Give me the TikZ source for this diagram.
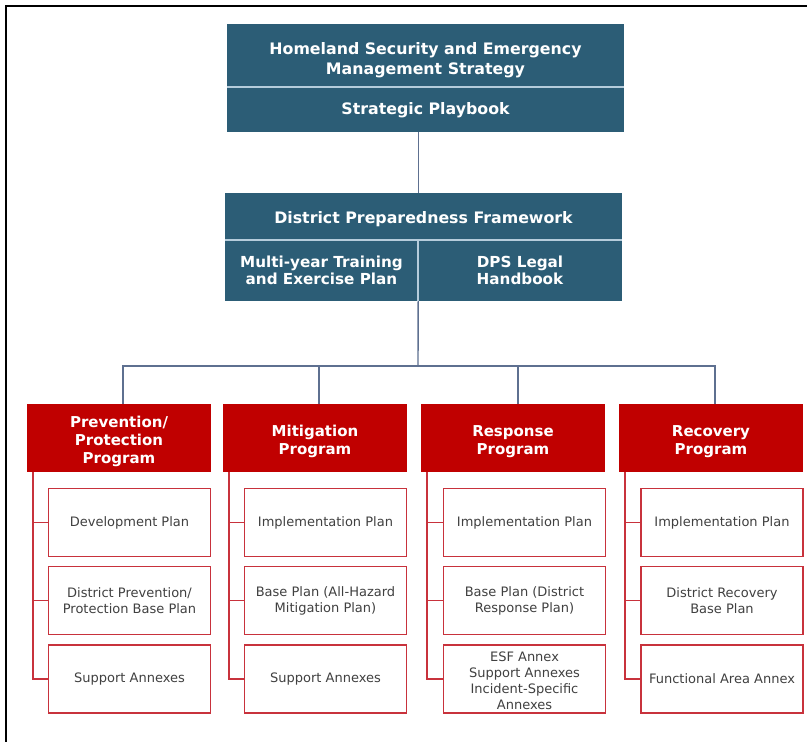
\documentclass[tikz,border=0pt]{standalone}
\usepackage{fontspec}
\setmainfont{DejaVu Sans}
\definecolor{tealbox}{HTML}{2C5D76}
\definecolor{divline}{HTML}{B5CCDB}
\definecolor{redbox}{HTML}{C00000}
\definecolor{redline}{HTML}{C8323C}
\definecolor{conn}{HTML}{5E7090}
\definecolor{childtxt}{HTML}{404040}
\begin{document}
\begin{tikzpicture}[x=1pt,y=-1pt,
  tealnode/.style={fill=tealbox,text=white,font=\fontsize{15.8}{20}\selectfont\bfseries,align=center,inner sep=0pt},
  prog/.style={fill=redbox,text=white,font=\fontsize{15}{18}\selectfont\bfseries,align=center,inner sep=0pt,minimum width=184pt,minimum height=68pt,text height=35.4pt},
  child/.style={draw=redline,line width=1.3pt,fill=white,text=childtxt,font=\fontsize{13}{16}\selectfont,align=center,inner sep=0pt,minimum width=162pt,minimum height=68pt},
  tconn/.style={draw=conn,line width=1.4pt},
  rconn/.style={draw=redline,line width=1.4pt},
  divider/.style={draw=divline,line width=1.5pt}]
\useasboundingbox (0,0) rectangle (807,742);
% frame
\draw[line width=2.5pt,black] (6,742) -- (6,6) -- (807,6);

% top box
\node[tealnode,minimum width=397pt,minimum height=63pt,text height=42pt] (top1) at (425.5,55.5) {Homeland Security and Emergency\\Management Strategy};
\node[tealnode,minimum width=397pt,minimum height=45pt,text height=13.5pt] (top2) at (425.5,109.5) {Strategic Playbook};
\draw[divider] (top1.south west) -- (top1.south east);

% framework
\node[tealnode,minimum width=397pt,minimum height=47pt,text height=18pt] (fw) at (423.5,216.5) {District Preparedness Framework};
\node[tealnode,font=\fontsize{15.2}{17.5}\selectfont\bfseries,minimum width=193pt,minimum height=61pt] (mt) at (321.5,270.5) {Multi-year Training\\and Exercise Plan};
\node[tealnode,font=\fontsize{15.2}{17.5}\selectfont\bfseries,minimum width=204pt,minimum height=61pt] (dps) at (520,270.5) {DPS Legal\\Handbook};
\draw[divider] (fw.south west) -- (fw.south east);
\draw[divider] (mt.north east) -- (mt.south east);

% programs
\node[prog,text height=53.4pt] (p1) at (119,438) {Prevention/\\Protection\\Program};
\node[prog] (p2) at (315,438) {Mitigation\\Program};
\node[prog] (p3) at (513,438) {Response\\Program};
\node[prog] (p4) at (711,438) {Recovery\\Program};

% connectors top
\draw[tconn] (top2.south -| mt.east) -- (fw.north -| mt.east);
\coordinate (bus) at (418,366);
\draw[tconn] (mt.south east) -- (bus);
\draw[tconn] ([xshift=4pt]p1.north) |- (bus) -| ([xshift=4pt]p4.north);
\draw[tconn] ([xshift=4pt]p2.north) -- ([xshift=4pt]p2.north |- bus);
\draw[tconn] ([xshift=5pt]p3.north) -- ([xshift=5pt]p3.north |- bus);

% children
\node[child] (c11) at (129.5,522.5) {Development Plan};
\node[child] (c12) at (129.5,600.5) {District Prevention/\\Protection Base Plan};
\node[child] (c13) at (129.5,679) {Support Annexes};
\node[child] (c21) at (325.5,522.5) {Implementation Plan};
\node[child] (c22) at (325.5,600.5) {Base Plan (All-Hazard\\Mitigation Plan)};
\node[child] (c23) at (325.5,679) {Support Annexes};
\node[child] (c31) at (524.5,522.5) {Implementation Plan};
\node[child] (c32) at (524.5,600.5) {Base Plan (District\\Response Plan)};
\node[child,text height=62pt] (c33) at (524.5,679) {ESF Annex\\Support Annexes\\Incident-Specific\\Annexes};
\node[child] (c41) at (722,522.5) {Implementation Plan};
\node[child] (c42) at (722,600.5) {District Recovery\\Base Plan};
\node[child] (c43) at (722,679) {Functional Area Annex};

% red tree connectors
\foreach \p/\c in {p1/c1,p2/c2,p3/c3,p4/c4}{
  \draw[rconn] ([xshift=6pt]\p.south west) |- (\c3.west);
  \draw[rconn] ([xshift=6pt]\p.south west) |- (\c2.west);
  \draw[rconn] ([xshift=6pt]\p.south west) |- (\c1.west);
}
\end{tikzpicture}
\end{document}
